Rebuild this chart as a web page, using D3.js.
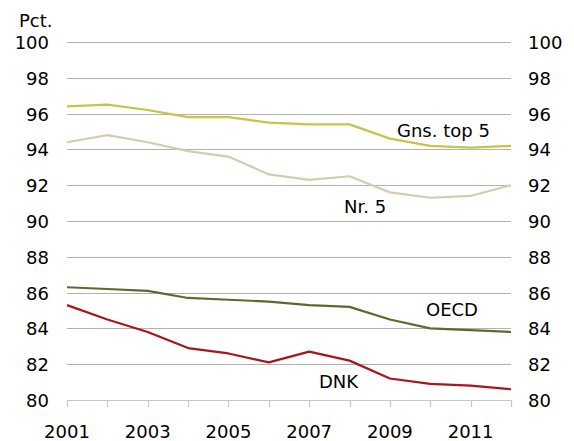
<!DOCTYPE html>
<html>
<head>
<meta charset="utf-8">
<script src="https://cdn.jsdelivr.net/npm/d3@7"></script>
<style>
  body { margin: 0; background: #fff; }
  svg text { font-family: "DejaVu Sans", Verdana, sans-serif; fill: #000; }
</style>
</head>
<body>
<div id="chart"></div>
<script>
// data
var years = [2001, 2002, 2003, 2004, 2005, 2006, 2007, 2008, 2009, 2010, 2011, 2012];
var yearLabels = [2001, 2003, 2005, 2007, 2009, 2011];
var yTicks = [80, 82, 84, 86, 88, 90, 92, 94, 96, 98, 100];

var gnsTop5 = [96.4, 96.5, 96.2, 95.8, 95.8, 95.5, 95.4, 95.4, 94.6, 94.2, 94.1, 94.2];
var nr5     = [94.4, 94.8, 94.4, 93.9, 93.6, 92.6, 92.3, 92.5, 91.6, 91.3, 91.4, 92.0];
var oecd    = [86.3, 86.2, 86.1, 85.7, 85.6, 85.5, 85.3, 85.2, 84.5, 84.0, 83.9, 83.8];
var dnk     = [85.3, 84.5, 83.8, 82.9, 82.6, 82.1, 82.7, 82.2, 81.2, 80.9, 80.8, 80.6];

var series = [
  { name: "Gns. top 5", values: gnsTop5, color: "#c6c546", lx: 397, ly: 137 },
  { name: "Nr. 5",      values: nr5,     color: "#d5ccb0", lx: 344, ly: 213 },
  { name: "OECD",       values: oecd,    color: "#66652f", lx: 426, ly: 316 },
  { name: "DNK",        values: dnk,     color: "#a8161d", lx: 319, ly: 388 }
];

var width = 574, height = 441;
var margin = { top: 42, right: 63, bottom: 41, left: 67 };

var svg = d3.select("#chart").append("svg")
    .attr("width", width)
    .attr("height", height);

var x = d3.scaleLinear()
    .domain([2001, 2012])
    .range([margin.left, width - margin.right]);

var y = d3.scaleLinear()
    .domain([80, 100])
    .range([height - margin.bottom, margin.top]);

// gridlines
svg.append("g")
  .selectAll("line")
  .data(yTicks)
  .join("line")
    .attr("x1", x(2001))
    .attr("x2", x(2012))
    .attr("y1", function(d) { return Math.round(y(d)) + 0.5; })
    .attr("y2", function(d) { return Math.round(y(d)) + 0.5; })
    .style("stroke", function(d) { return d == 80 ? "#c8c8c8" : "#b2b2b2"; })
    .style("stroke-width", 1.2);

// x tick marks, one per year
svg.append("g")
  .selectAll("line")
  .data(years)
  .join("line")
    .attr("x1", function(d) { return Math.round(x(d)) + 0.5; })
    .attr("x2", function(d) { return Math.round(x(d)) + 0.5; })
    .attr("y1", y(80))
    .attr("y2", y(80) + 7)
    .style("stroke", "#c8c8c8")
    .style("stroke-width", 1.2);

// left and right y labels
svg.append("g")
  .selectAll("text")
  .data(yTicks)
  .join("text")
    .attr("x", 49)
    .attr("y", function(d) { return y(d) + 7; })
    .attr("text-anchor", "end")
    .style("font-size", "18px")
    .text(function(d) { return d; });

svg.append("g")
  .selectAll("text")
  .data(yTicks)
  .join("text")
    .attr("x", 528)
    .attr("y", function(d) { return y(d) + 7; })
    .attr("text-anchor", "start")
    .style("font-size", "18px")
    .text(function(d) { return d; });

// year labels
svg.append("g")
  .selectAll("text")
  .data(yearLabels)
  .join("text")
    .attr("x", function(d) { return x(d); })
    .attr("y", 438)
    .attr("text-anchor", "middle")
    .style("font-size", "18px")
    .text(function(d) { return d; });

svg.append("text")
    .attr("x", 19)
    .attr("y", 27)
    .style("font-size", "18px")
    .text("Pct.");

// lines
var line = d3.line()
    .x(function(d, i) { return x(years[i]); })
    .y(function(d) { return y(d); });

svg.append("g")
  .selectAll("path")
  .data(series)
  .join("path")
    .attr("d", function(d) { return line(d.values); })
    .style("fill", "none")
    .style("stroke", function(d) { return d.color; })
    .style("stroke-width", 2.2)
    .style("stroke-linejoin", "round");

// series labels
svg.append("g")
  .selectAll("text")
  .data(series)
  .join("text")
    .attr("x", function(d) { return d.lx; })
    .attr("y", function(d) { return d.ly; })
    .style("font-size", "18px")
    .text(function(d) { return d.name; });
</script>
</body>
</html>
